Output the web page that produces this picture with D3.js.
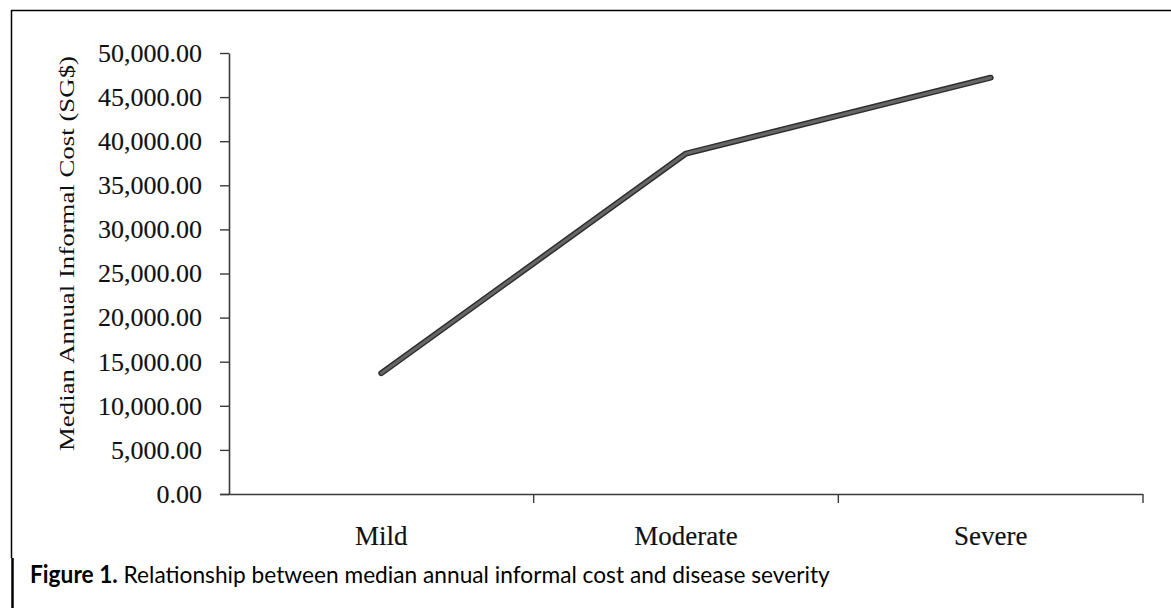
<!DOCTYPE html>
<html>
<head>
<meta charset="utf-8">
<script src="https://cdn.jsdelivr.net/npm/d3@7"></script>
<style>
  html, body { margin: 0; padding: 0; background: #fff; }
  svg { display: block; }
</style>
</head>
<body>
<svg id="chart" width="1171" height="608"></svg>
<script>
const categories = ["Mild", "Moderate", "Severe"];
const medianCost = [13700, 38600, 47200];
const yTicks = [0, 5000, 10000, 15000, 20000, 25000, 30000, 35000, 40000, 45000, 50000];
const yLabel = "Median Annual Informal Cost (SG$)";
const captionBold = "Figure 1.";
const captionText = " Relationship between median annual informal cost and disease severity";

const svg = d3.select("#chart");
const serif = "'Liberation Serif', 'Times New Roman', serif";

// frame of the scanned figure
svg.append("line").attr("x1", 11).attr("x2", 1171).attr("y1", 10.5).attr("y2", 10.5)
  .attr("stroke", "#000").attr("stroke-width", 1.5);
svg.append("line").attr("x1", 11.5).attr("x2", 11.5).attr("y1", 10).attr("y2", 558)
  .attr("stroke", "#000").attr("stroke-width", 1.5);
svg.append("line").attr("x1", 12.5).attr("x2", 12.5).attr("y1", 558).attr("y2", 608)
  .attr("stroke", "#000").attr("stroke-width", 2.5);

const x = d3.scaleBand().domain(categories).range([229, 1143]).paddingInner(0).paddingOuter(0);
const y = d3.scaleLinear().domain([0, 50000]).range([494, 53]);

const fmt = d3.format(",.2f");

// y axis
const yAxis = svg.append("g").attr("transform", "translate(229,0)")
  .call(d3.axisLeft(y).tickValues(yTicks).tickFormat(fmt).tickSize(9).tickPadding(18).tickSizeOuter(0));
yAxis.select(".domain").attr("stroke", "#3a3a3a").attr("stroke-width", 1.6);
yAxis.selectAll(".tick line").attr("stroke", "#3a3a3a").attr("stroke-width", 1.4);
yAxis.selectAll(".tick text").attr("font-family", serif).attr("font-size", 26).attr("fill", "#111")
  .attr("stroke", "#111").attr("stroke-width", 0.15);

// x axis
const xAxis = svg.append("g").attr("transform", "translate(0,494)")
  .call(d3.axisBottom(x).tickSize(0).tickPadding(32).tickSizeOuter(0));
xAxis.select(".domain").attr("stroke", "#3a3a3a").attr("stroke-width", 1.6)
  .attr("d", `M220,0.5H${1143}`);
xAxis.selectAll(".tick text").attr("font-family", serif).attr("font-size", 27).attr("fill", "#111")
  .attr("stroke", "#111").attr("stroke-width", 0.15);
// band boundary ticks
const bounds = categories.map(c => x(c)).concat([x(categories[categories.length-1]) + x.bandwidth()]).slice(1);
xAxis.selectAll(".bnd").data(bounds).join("line").attr("class", "bnd")
  .attr("x1", d => d).attr("x2", d => d).attr("y1", 0).attr("y2", 9)
  .attr("stroke", "#3a3a3a").attr("stroke-width", 1.4);

// y label
svg.append("text")
  .attr("transform", `translate(74,253.5) rotate(-90)`)
  .attr("text-anchor", "middle")
  .attr("font-family", serif).attr("font-size", 22).attr("fill", "#111")
  .attr("textLength", 395).attr("lengthAdjust", "spacingAndGlyphs")
  .text(yLabel);

// data line
const pts = categories.map((c, i) => [x(c) + x.bandwidth() / 2, y(medianCost[i])]);
const line = d3.line();
svg.append("path").attr("d", line(pts)).attr("fill", "none")
  .attr("stroke", "#2e2e2e").attr("stroke-width", 6).attr("stroke-linecap", "round").attr("stroke-linejoin", "round");
svg.append("path").attr("d", line(pts)).attr("fill", "none")
  .attr("stroke", "#666").attr("stroke-width", 3).attr("stroke-linecap", "round").attr("stroke-linejoin", "round");

// caption (Calibri-like: taller glyphs, narrow width)
const capG = svg.append("g");
const cap = capG.append("text").attr("x", 0).attr("y", 0)
  .attr("font-family", "Lato, 'Open Sans', sans-serif").attr("font-size", 24).attr("fill", "#000");
cap.append("tspan").attr("font-weight", "bold").text(captionBold);
cap.append("tspan").text(captionText);
const w = cap.node().getComputedTextLength();
capG.attr("transform", `translate(30,583) scale(${800 / w},1)`);
</script>
</body>
</html>
